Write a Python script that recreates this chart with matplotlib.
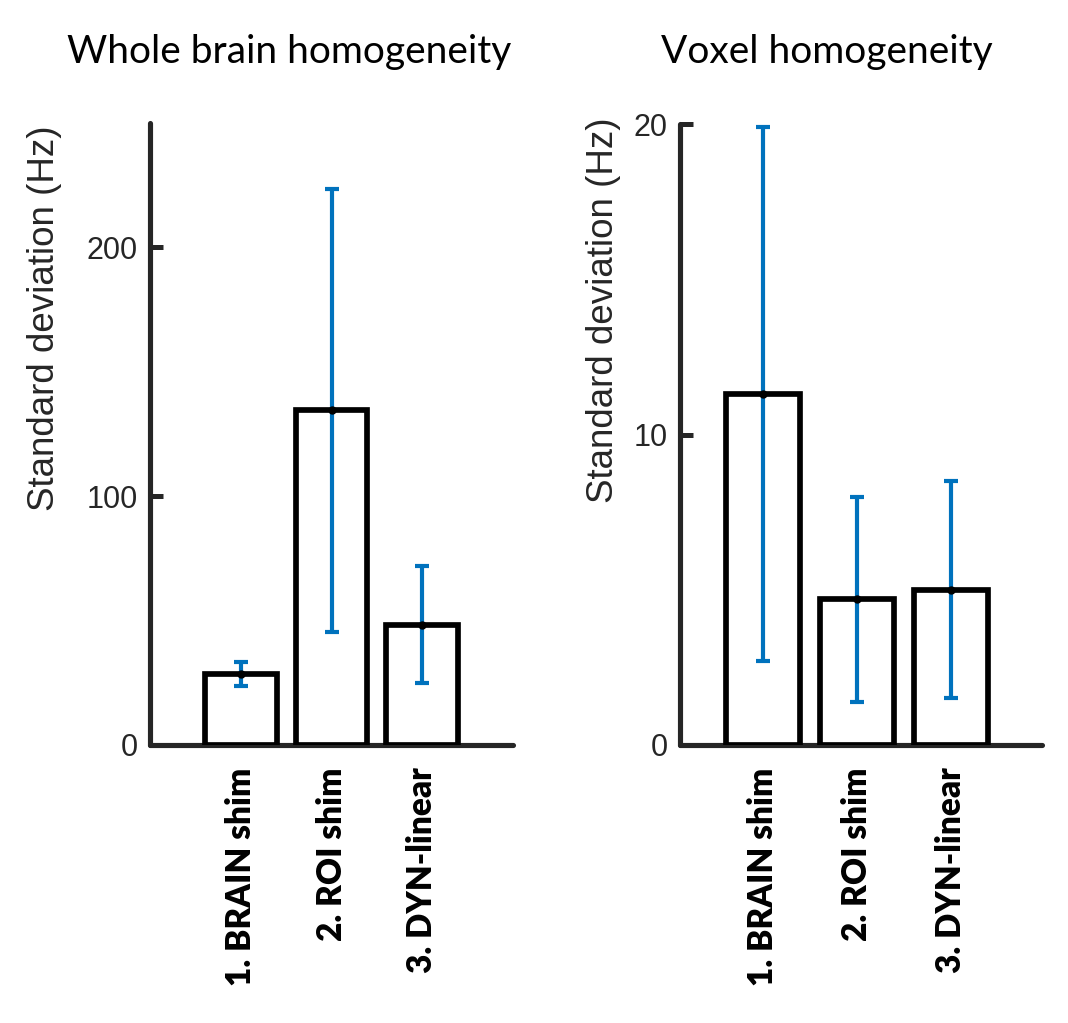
import matplotlib
matplotlib.use("Agg")
import matplotlib.pyplot as plt
import numpy as np

categories = ["1. BRAIN shim", "2. ROI shim", "3. DYN-linear"]
whole_mean = [28.7, 134.5, 48.3]
whole_err = [4.8, 89.0, 23.5]
voxel_mean = [11.3, 4.7, 5.0]
voxel_err = [8.6, 3.3, 3.5]
whole_ticks = [0, 100, 200]
voxel_ticks = [0, 10, 20]

AX_COLOR = "#262626"
ERR_COLOR = "#0072BD"

fig = plt.figure(figsize=(10.68, 10.23), dpi=100)

def make_panel(rect, means, errs, ticks, ylim, xlim, title, title_x, label_coords):
    ax = fig.add_axes(rect)
    x = np.arange(1, len(means) + 1)
    ax.bar(x, means, width=0.79, facecolor="white", edgecolor="black",
           linewidth=4.1, zorder=2)
    ax.errorbar(x, means, yerr=errs, fmt="none", ecolor=ERR_COLOR,
                elinewidth=3.0, capsize=5.2, capthick=3.0, zorder=3)
    ax.plot(x, means, "o", color="black", markersize=5, zorder=4)
    ax.set_xlim(*xlim)
    ax.set_ylim(*ylim)
    ax.set_yticks(ticks)
    ax.set_yticklabels([str(t) for t in ticks], fontfamily="Liberation Sans",
                       fontsize=22, color=AX_COLOR)
    ax.set_xticks(x)
    ax.set_xticklabels(categories, rotation=90, fontfamily="Lato",
                       fontweight="heavy", fontsize=24, color="black",
                       va="top", ha="center")
    ax.tick_params(axis="x", length=0, pad=16)
    ax.tick_params(axis="y", direction="in", length=9, width=3.6,
                   color=AX_COLOR, pad=9)
    for s in ["top", "right"]:
        ax.spines[s].set_visible(False)
    for s in ["left", "bottom"]:
        ax.spines[s].set_linewidth(3.7)
        ax.spines[s].set_color(AX_COLOR)
        ax.spines[s].set_capstyle("round")
        ax.spines[s].set_zorder(1)
    ax.set_ylabel("Standard deviation (Hz)", fontfamily="Liberation Sans",
                  fontsize=26.5, color=AX_COLOR, va="center")
    ax.yaxis.set_label_coords(*label_coords)
    fig.text(title_x, 1 - 52 / 1023, title, fontfamily="Lato", fontsize=28,
             ha="center", va="center", color="black")
    return ax

make_panel([150 / 1068, 1 - 745 / 1023, 363 / 1068, 622 / 1023],
           whole_mean, whole_err, whole_ticks, (0, 250), (0, 4.0),
           "Whole brain homogeneity", 289 / 1068, (-0.29, 0.686))
make_panel([680 / 1068, 1 - 745 / 1023, 362 / 1068, 621 / 1023],
           voxel_mean, voxel_err, voxel_ticks, (0, 20), (0.12, 3.97),
           "Voxel homogeneity", 827 / 1068, (-0.21, 0.70))

fig.savefig("out.png", dpi=100, facecolor="white")
